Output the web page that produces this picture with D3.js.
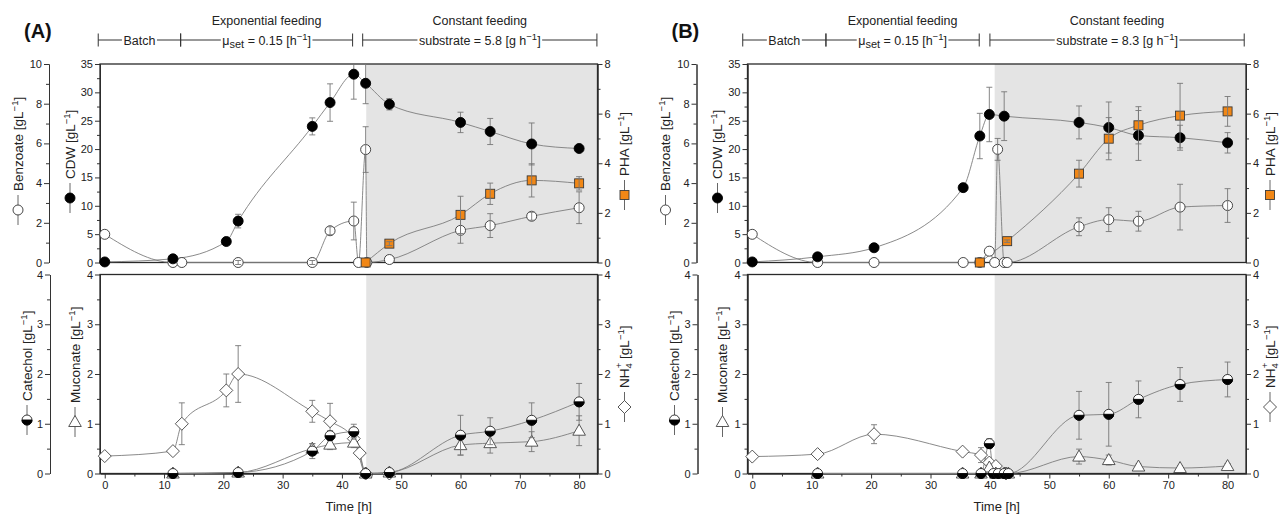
<!DOCTYPE html>
<html>
<head>
<meta charset="utf-8">
<script src="https://cdn.jsdelivr.net/npm/d3@7"></script>
<style>
body { margin: 0; background: #fff; }
svg { font-family: "Liberation Sans", Arial, sans-serif; }
</style>
</head>
<body>
<svg id="chart" width="1280" height="514"></svg>
<script>
// ---- data (time in h, concentrations in g/L) ----
var xDomain = [-0.8, 83.1];

// panel A
var aCdwT   = [0, 11.5, 20.5, 22.5, 35, 38, 42, 44, 48, 60, 65, 72, 80];
var aCdw    = [0.1, 0.65, 3.7, 7.3, 24.0, 28.2, 33.2, 31.6, 27.9, 24.7, 23.1, 20.9, 20.1];
var aCdwE   = [0, 0, 0.6, 1.2, 1.5, 3.3, 4.4, 3.6, 1.0, 1.8, 2.3, 3.7, 0.5];
var aBenzT  = [0, 11.5, 13, 22.5, 35, 38, 42, 42.8, 44, 44.2, 48, 60, 65, 72, 80];
var aBenz   = [1.42, 0, 0, 0, 0, 1.6, 2.09, 0, 5.69, 0, 0.15, 1.62, 1.86, 2.33, 2.76];
var aBenzE  = [0, 0, 0, 0.1, 0.1, 0.2, 0.95, 0, 1.15, 0, 0, 0.65, 0.6, 0.2, 0.8];
var aPhaT   = [44, 48, 60, 65, 72, 80];
var aPha    = [0, 0.76, 1.92, 2.77, 3.31, 3.19];
var aPhaE   = [0, 0.08, 0.75, 0.43, 0.67, 0.27];
var aNhT    = [0, 11.5, 13, 20.5, 22.5, 35, 38, 42, 43, 44, 48];
var aNh     = [0.35, 0.45, 1.0, 1.67, 2.0, 1.25, 1.05, 0.70, 0.41, 0, 0];
var aNhE    = [0, 0.03, 0.42, 0.33, 0.57, 0.22, 0.36, 0.1, 0.05, 0, 0];
var aCatT   = [11.5, 22.5, 35, 38, 42, 44, 48, 60, 65, 72, 80];
var aCat    = [0, 0.02, 0.45, 0.76, 0.84, 0, 0.02, 0.77, 0.85, 1.07, 1.44];
var aCatE   = [0, 0, 0.15, 0.1, 0.15, 0, 0, 0.4, 0.27, 0.35, 0.37];
var aMucT   = [11.5, 22.5, 35, 38, 42, 44, 48, 60, 65, 72, 80];
var aMuc    = [0, 0.02, 0.5, 0.58, 0.62, 0, 0.02, 0.57, 0.61, 0.64, 0.86];
var aMucE   = [0, 0, 0.1, 0.1, 0.1, 0, 0, 0.2, 0.2, 0.2, 0.3];

// panel B
var bCdwT   = [0, 11, 20.5, 35.5, 38.3, 39.9, 42.4, 55, 60, 65, 72, 80];
var bCdw    = [0.1, 1.0, 2.6, 13.2, 22.3, 26.1, 25.8, 24.7, 23.8, 22.4, 22.0, 21.1];
var bCdwE   = [0, 0, 0, 0.3, 4.0, 4.8, 4.3, 2.9, 4.5, 4.4, 2.2, 1.8];
var bBenzT  = [0, 11, 20.5, 35.5, 38.3, 39.9, 40.8, 41.3, 42.4, 42.9, 55, 60, 65, 72, 80];
var bBenz   = [1.42, 0, 0, 0, 0, 0.57, 0, 5.7, 0, 0, 1.8, 2.16, 2.08, 2.79, 2.87];
var bBenzE  = [0, 0, 0, 0, 0, 0, 0, 0.55, 0, 0, 0.45, 0.6, 0.5, 1.15, 0.85];
var bPhaT   = [38.3, 42.9, 55, 60, 65, 72, 80];
var bPha    = [0, 0.86, 3.58, 4.99, 5.53, 5.92, 6.09];
var bPhaE   = [0, 0.05, 0.54, 0.85, 0.75, 1.3, 0.6];
var bNhT    = [0, 11, 20.5, 35.4, 38.5, 39.9, 41, 42.7];
var bNh     = [0.34, 0.39, 0.79, 0.44, 0.37, 0.22, 0.15, 0];
var bNhE    = [0, 0.03, 0.19, 0, 0.15, 0.05, 0.05, 0];
var bCatT   = [11, 35.4, 38.5, 39.9, 40.6, 41.4, 42.4, 43.1, 55, 60, 65, 72, 80];
var bCat    = [0, 0, 0, 0.6, 0, 0, 0, 0, 1.17, 1.19, 1.49, 1.79, 1.89];
var bCatE   = [0, 0, 0, 0.1, 0, 0, 0, 0, 0.48, 0.64, 0.37, 0.34, 0.35];
var bMucT   = [11, 35.4, 38.5, 39.9, 41, 42.4, 43.1, 55, 60, 65, 72, 80];
var bMuc    = [0, 0, 0, 0.12, 0, 0, 0, 0.34, 0.27, 0.14, 0.11, 0.15];
var bMucE   = [0, 0, 0, 0.05, 0, 0, 0, 0.15, 0.1, 0.05, 0.05, 0.05];

// phase boundaries (h) and feed rates
var phaseA = [-1.1, 12.8, 41.8, 43.5, 83];
var phaseB = [-1.6, 12.4, 38.2, 40.0, 82.8];
var shadeStart = [44.1, 40.8];
var feedRate = ["5.8", "8.3"];
var panelNames = ["(A)", "(B)"];

// ---- layout ----
var svg = d3.select("#chart");
var Y_TOP = 64, Y_MID = 262.5, Y_LTOP = 274.5, Y_BOT = 473.5;
var ORANGE = "#f18716";
var FONT = "'Liberation Sans', Arial, sans-serif";

function styleAxis(a) {
    a.attr("font-size", 11).attr("font-family", FONT);
    a.selectAll("path, line").attr("stroke", "#333").attr("stroke-width", 1);
    a.selectAll("text").attr("fill", "#222");
}

function vAxis(g, scale, xPos, side, major, minor) {
    var mk = side == "left" ? d3.axisLeft : d3.axisRight;
    var a = g.append("g").attr("transform", "translate(" + xPos + ",0)")
        .call(mk(scale).tickValues(major).tickSize(5).tickSizeOuter(0).tickPadding(2).tickFormat(d3.format("d")));
    styleAxis(a);
    var b = g.append("g").attr("transform", "translate(" + xPos + ",0)")
        .call(mk(scale).tickValues(minor).tickSize(3).tickSizeOuter(0).tickFormat(""));
    styleAxis(b);
}

function marker(g, kind, cx, cy) {
    if (kind == "open" || kind == "filled") {
        g.append("circle").attr("cx", cx).attr("cy", cy).attr("r", 5)
            .attr("fill", kind == "open" ? "#fff" : "#000")
            .attr("stroke", kind == "open" ? "#333" : "#000").attr("stroke-width", 0.9);
    } else if (kind == "square") {
        g.append("rect").attr("x", cx - 4.5).attr("y", cy - 4.5).attr("width", 9).attr("height", 9)
            .attr("fill", ORANGE).attr("stroke", "#3a3a3a").attr("stroke-width", 0.9);
    } else if (kind == "diamond") {
        var s = 6.5;
        g.append("path")
            .attr("d", "M" + cx + "," + (cy - s) + "L" + (cx + s) + "," + cy + "L" + cx + "," + (cy + s) + "L" + (cx - s) + "," + cy + "Z")
            .attr("fill", "#fff").attr("stroke", "#444").attr("stroke-width", 0.9);
    } else if (kind == "triangle") {
        var h = 5.5;
        g.append("path")
            .attr("d", "M" + cx + "," + (cy - h - 1) + "L" + (cx + h + 0.8) + "," + (cy + h - 1) + "L" + (cx - h - 0.8) + "," + (cy + h - 1) + "Z")
            .attr("fill", "#fff").attr("stroke", "#444").attr("stroke-width", 0.9);
    } else if (kind == "half") {
        g.append("circle").attr("cx", cx).attr("cy", cy).attr("r", 5)
            .attr("fill", "#fff").attr("stroke", "#222").attr("stroke-width", 0.9);
        g.append("path")
            .attr("d", "M" + (cx - 5) + "," + cy + "A5,5 0 0 0 " + (cx + 5) + "," + cy + "Z")
            .attr("fill", "#000").attr("stroke", "#000").attr("stroke-width", 0.9);
    }
}

function seriesLine(g, x, y, ts, vs) {
    var pts = ts.map(function(t, i) { return [t, vs[i]]; });
    g.append("path").datum(pts)
        .attr("d", d3.line().x(function(d) { return x(d[0]); }).y(function(d) { return y(d[1]); })
            .curve(d3.curveMonotoneX))
        .attr("fill", "none").attr("stroke", "#7d7d7d").attr("stroke-width", 0.9);
}

function errBars(g, x, y, ts, vs, es) {
    ts.forEach(function(t, i) {
        if (es[i] <= 0) return;
        var cx = x(t), y1 = y(vs[i] - es[i]), y2 = y(vs[i] + es[i]);
        g.append("line").attr("x1", cx).attr("x2", cx).attr("y1", y1).attr("y2", y2)
            .attr("stroke", "#777").attr("stroke-width", 0.9);
        [y1, y2].forEach(function(yy) {
            g.append("line").attr("x1", cx - 3).attr("x2", cx + 3).attr("y1", yy).attr("y2", yy)
                .attr("stroke", "#777").attr("stroke-width", 0.9);
        });
    });
}

function seriesMarks(g, x, y, ts, vs, es, kind) {
    var onTop = kind == "open" || kind == "square";
    if (!onTop) errBars(g, x, y, ts, vs, es);
    ts.forEach(function(t, i) { marker(g, kind, x(t), y(vs[i])); });
    if (onTop) errBars(g, x, y, ts, vs, es);
}

// rotated axis title with a small legend symbol in front of it
function axisTitle(g, cx, cy, kind, build) {
    var t = g.append("g").attr("transform", "translate(" + cx + "," + cy + ") rotate(-90)");
    t.append("line").attr("x1", -15).attr("x2", 15).attr("stroke", "#555").attr("stroke-width", 0.9);
    var txt = t.append("text").attr("x", 19).attr("dy", "0.36em")
        .attr("font-size", 13.5).attr("font-family", FONT).attr("fill", "#222");
    build(txt);
    marker(g, kind, cx, cy);
}

function gLunit(txt, name) {
    txt.append("tspan").text(name + " [gL");
    txt.append("tspan").attr("dy", -5).attr("font-size", 9.5).text("\u22121");
    txt.append("tspan").attr("dy", 5).text("]");
}

function drawPanel(k, left, right, phases, dat) {
    var g = svg.append("g");
    var x = d3.scaleLinear().domain(xDomain).range([left, right]);
    var yCdw = d3.scaleLinear().domain([0, 35]).range([Y_MID, Y_TOP]);
    var yBenz = d3.scaleLinear().domain([0, 10]).range([Y_MID, Y_TOP]);
    var yPha = d3.scaleLinear().domain([0, 8]).range([Y_MID, Y_TOP]);
    var yLow = d3.scaleLinear().domain([0, 4]).range([Y_BOT, Y_LTOP]);

    var clipId = "clip" + k;
    svg.append("clipPath").attr("id", clipId).append("rect")
        .attr("x", left - 10).attr("y", Y_TOP).attr("width", right - left + 20).attr("height", Y_BOT - Y_TOP + 10);

    // constant feeding phase shading
    [[Y_TOP, Y_MID], [Y_LTOP, Y_BOT]].forEach(function(r) {
        g.append("rect").attr("x", x(shadeStart[k])).attr("y", r[0])
            .attr("width", right - x(shadeStart[k])).attr("height", r[1] - r[0])
            .attr("fill", "#e4e4e4");
    });

    // axes
    vAxis(g, yBenz, left - 51, "left", d3.range(0, 11, 2), d3.range(1, 10, 2));
    vAxis(g, yCdw, left, "left", d3.range(0, 36, 5), d3.range(2.5, 35, 5));
    vAxis(g, yPha, right, "right", d3.range(0, 9, 2), d3.range(1, 8, 2));
    vAxis(g, yLow, left - 50, "left", [0, 1, 2, 3, 4], [0.5, 1.5, 2.5, 3.5]);
    vAxis(g, yLow, left, "left", [0, 1, 2, 3, 4], [0.5, 1.5, 2.5, 3.5]);
    vAxis(g, yLow, right, "right", [0, 1, 2, 3, 4], [0.5, 1.5, 2.5, 3.5]);

    var xa = g.append("g").attr("transform", "translate(0," + Y_BOT + ")")
        .call(d3.axisBottom(x).tickValues(d3.range(0, 81, 10)).tickSize(5).tickSizeOuter(0).tickPadding(3));
    styleAxis(xa);
    var xb = g.append("g").attr("transform", "translate(0," + Y_BOT + ")")
        .call(d3.axisBottom(x).tickValues(d3.range(5, 81, 10)).tickSize(3).tickSizeOuter(0).tickFormat(""));
    styleAxis(xb);

    // frames
    [[Y_TOP, Y_MID], [Y_LTOP, Y_BOT]].forEach(function(r) {
        g.append("rect").attr("x", left).attr("y", r[0]).attr("width", right - left).attr("height", r[1] - r[0])
            .attr("fill", "none").attr("stroke", "#2a2a2a").attr("stroke-width", 1.3);
    });

    var pg = g.append("g").attr("clip-path", "url(#" + clipId + ")");

    // lines
    seriesLine(pg, x, yBenz, dat.benzT, dat.benz);
    seriesLine(pg, x, yCdw, dat.cdwT, dat.cdw);
    seriesLine(pg, x, yPha, dat.phaT, dat.pha);
    seriesLine(pg, x, yLow, dat.nhT, dat.nh);
    seriesLine(pg, x, yLow, dat.mucT, dat.muc);
    seriesLine(pg, x, yLow, dat.catT, dat.cat);

    // markers + error bars
    seriesMarks(pg, x, yBenz, dat.benzT, dat.benz, dat.benzE, "open");
    seriesMarks(pg, x, yCdw, dat.cdwT, dat.cdw, dat.cdwE, "filled");
    seriesMarks(pg, x, yPha, dat.phaT, dat.pha, dat.phaE, "square");
    seriesMarks(pg, x, yLow, dat.nhT, dat.nh, dat.nhE, "diamond");
    seriesMarks(pg, x, yLow, dat.mucT, dat.muc, dat.mucE, "triangle");
    seriesMarks(pg, x, yLow, dat.catT, dat.cat, dat.catE, "half");

    // axis titles
    var rOff = k == 0 ? 27 : 24;
    axisTitle(g, left - 82, 210, "open", function(t) { gLunit(t, "Benzoate"); });
    axisTitle(g, left - 30, 198, "filled", function(t) { gLunit(t, "CDW"); });
    axisTitle(g, right + rOff, 195, "square", function(t) { gLunit(t, "PHA"); });
    axisTitle(g, left - 73, 420, "half", function(t) { gLunit(t, "Catechol"); });
    axisTitle(g, left - 25, 422, "triangle", function(t) { gLunit(t, "Muconate"); });
    axisTitle(g, right + rOff, 407, "diamond", function(t) {
        t.append("tspan").text("NH");
        t.append("tspan").attr("dy", 3).attr("font-size", 9.5).text("4");
        t.append("tspan").attr("dx", -5).attr("dy", -10).attr("font-size", 9.5).text("+");
        t.append("tspan").attr("dy", 7).text(" [gL");
        t.append("tspan").attr("dy", -5).attr("font-size", 9.5).text("\u22121");
        t.append("tspan").attr("dy", 5).text("]");
    });

    g.append("text").attr("x", (left + right) / 2).attr("y", 511).attr("text-anchor", "middle")
        .attr("font-size", 13).attr("font-family", FONT).attr("fill", "#222").text("Time [h]");

    // header: panel letter, phases
    g.append("text").attr("x", left - 76).attr("y", 38).attr("font-size", 20).attr("font-weight", "bold")
        .attr("font-family", FONT).attr("fill", "#111").text(panelNames[k]);

    var yb = 40;
    var segs = [[phases[0], phases[1]], [phases[1], phases[2]], [phases[3], phases[4]]];
    var builders = [
        function(t) { t.text("Batch"); },
        function(t) {
            t.append("tspan").text("\u03bc");
            t.append("tspan").attr("dy", 3).attr("font-size", 11).text("set");
            t.append("tspan").attr("dy", -3).text(" = 0.15 [h");
            t.append("tspan").attr("dy", -5).attr("font-size", 9.5).text("\u22121");
            t.append("tspan").attr("dy", 5).text("]");
        },
        function(t) {
            t.append("tspan").text("substrate = " + feedRate[k] + " [g h");
            t.append("tspan").attr("dy", -5).attr("font-size", 9.5).text("\u22121");
            t.append("tspan").attr("dy", 5).text("]");
        }
    ];
    segs.forEach(function(s, i) {
        var x0 = x(s[0]), x1 = x(s[1]);
        var t = g.append("text").attr("x", (x0 + x1) / 2).attr("y", yb + 4.5).attr("text-anchor", "middle")
            .attr("font-size", 12.5).attr("font-family", FONT).attr("fill", "#222");
        builders[i](t);
        var bb = t.node().getBBox();
        g.append("line").attr("x1", x0).attr("x2", bb.x - 1.5).attr("y1", yb).attr("y2", yb)
            .attr("stroke", "#333").attr("stroke-width", 1);
        g.append("line").attr("x1", bb.x + bb.width + 1.5).attr("x2", x1).attr("y1", yb).attr("y2", yb)
            .attr("stroke", "#333").attr("stroke-width", 1);
        [x0, x1].forEach(function(xx) {
            g.append("line").attr("x1", xx).attr("x2", xx).attr("y1", yb - 6.5).attr("y2", yb + 6.5)
                .attr("stroke", "#333").attr("stroke-width", 1);
        });
    });
    [["Exponential feeding", segs[1]], ["Constant feeding", segs[2]]].forEach(function(h) {
        g.append("text").attr("x", (x(h[1][0]) + x(h[1][1])) / 2).attr("y", 25).attr("text-anchor", "middle")
            .attr("font-size", 12.5).attr("font-family", FONT).attr("fill", "#222").text(h[0]);
    });
}

drawPanel(0, 100, 597.5, phaseA, {
    cdwT: aCdwT, cdw: aCdw, cdwE: aCdwE, benzT: aBenzT, benz: aBenz, benzE: aBenzE,
    phaT: aPhaT, pha: aPha, phaE: aPhaE, nhT: aNhT, nh: aNh, nhE: aNhE,
    catT: aCatT, cat: aCat, catE: aCatE, mucT: aMucT, muc: aMuc, mucE: aMucE
});
drawPanel(1, 747.5, 1246, phaseB, {
    cdwT: bCdwT, cdw: bCdw, cdwE: bCdwE, benzT: bBenzT, benz: bBenz, benzE: bBenzE,
    phaT: bPhaT, pha: bPha, phaE: bPhaE, nhT: bNhT, nh: bNh, nhE: bNhE,
    catT: bCatT, cat: bCat, catE: bCatE, mucT: bMucT, muc: bMuc, mucE: bMucE
});
</script>
</body>
</html>
